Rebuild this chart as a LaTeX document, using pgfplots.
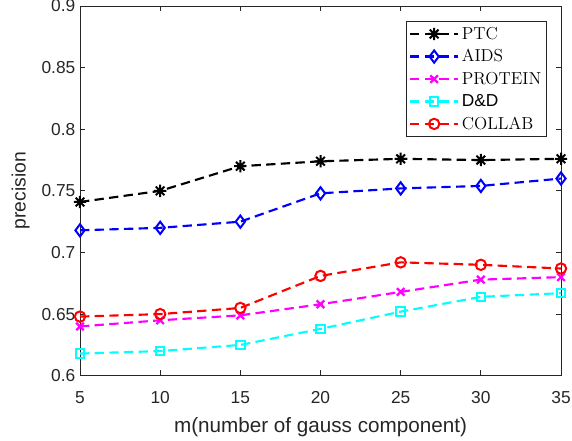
\documentclass[border=0pt]{standalone}
\usepackage{fontspec}
\setsansfont{Liberation Sans}
\usepackage{pgfplots}
\pgfplotsset{compat=1.18}
\pgfdeclareplotmark{star8}{%
  \pgfpathmoveto{\pgfpointpolar{0}{\pgfplotmarksize}}\pgfpathlineto{\pgfpointpolar{180}{\pgfplotmarksize}}%
  \pgfpathmoveto{\pgfpointpolar{90}{\pgfplotmarksize}}\pgfpathlineto{\pgfpointpolar{270}{\pgfplotmarksize}}%
  \pgfpathmoveto{\pgfpointpolar{45}{\pgfplotmarksize}}\pgfpathlineto{\pgfpointpolar{225}{\pgfplotmarksize}}%
  \pgfpathmoveto{\pgfpointpolar{135}{\pgfplotmarksize}}\pgfpathlineto{\pgfpointpolar{315}{\pgfplotmarksize}}%
  \pgfusepathqstroke}
\definecolor{axgray}{rgb}{0.15,0.15,0.15}
\definecolor{mblue}{rgb}{0,0,1}
\definecolor{mmag}{rgb}{1,0,1}
\definecolor{mcyan}{rgb}{0,1,1}
\definecolor{mred}{rgb}{1,0,0}
\begin{document}
\begin{tikzpicture}
\begin{axis}[
  name=ax,
  width=360.75pt, height=277.3pt, scale only axis,
  xmin=5, xmax=35, ymin=0.6, ymax=0.9,
  xtick={5,10,15,20,25,30,35},
  ytick={0.6,0.65,0.7,0.75,0.8,0.85,0.9},
  yticklabels={0.6,0.65,0.7,0.75,0.8,0.85,0.9},
  tick align=inside, major tick length=4pt,
  axis line style={axgray, line width=0.6pt},
  every tick/.style={axgray, line width=0.6pt},
  tick label style={font=\sffamily\fontsize{13}{15}\selectfont, text=axgray},
  xticklabel style={yshift=-8pt},
  /pgf/number format/assume math mode=true,
  xlabel={m(number of gauss component)},
  ylabel={precision},
  xlabel style={font=\sffamily\fontsize{15.5}{18}\selectfont, text=axgray, yshift=-4pt},
  ylabel style={font=\sffamily\fontsize{14.5}{17}\selectfont, text=axgray, yshift=2pt},
  every axis plot/.append style={line width=1.6pt, dash pattern=on 7pt off 4pt},
  legend style={at={(0.971,0.959)}, anchor=north east, draw=axgray, line width=0.6pt,
    font=\fontsize{13}{15}\selectfont, row sep=2.2pt, inner sep=2pt},
  legend cell align=left,
  legend image code/.code={\draw[mark repeat=2,mark phase=2] plot coordinates {(0pt,0pt) (18pt,0pt) (36pt,0pt)};},
]
\addplot[black, mark=star8, mark size=4.6pt, mark options={solid, line width=1.5pt}] coordinates {
(5,0.741) (10,0.750) (15,0.770) (20,0.774) (25,0.776) (30,0.775) (35,0.776)};
\addlegendentry{PTC}
\addplot[mblue, mark=diamond, mark size=4.6pt, mark options={solid, line width=1.5pt}] coordinates {
(5,0.718) (10,0.720) (15,0.725) (20,0.748) (25,0.752) (30,0.754) (35,0.760)};
\addlegendentry{AIDS}
\addplot[mmag, mark=x, mark size=4pt, mark options={solid, line width=1.7pt}] coordinates {
(5,0.640) (10,0.645) (15,0.649) (20,0.658) (25,0.668) (30,0.678) (35,0.680)};
\addlegendentry{PROTEIN}
\addplot[mcyan, mark=square, mark size=3.2pt, mark options={solid, line width=1.5pt}] coordinates {
(5,0.618) (10,0.620) (15,0.625) (20,0.638) (25,0.652) (30,0.664) (35,0.667)};
\addlegendentry{\sffamily D\&D}
\addplot[mred, mark=o, mark size=3.9pt, mark options={solid, line width=1.5pt}] coordinates {
(5,0.648) (10,0.650) (15,0.655) (20,0.681) (25,0.692) (30,0.690) (35,0.687)};
\addlegendentry{COLLAB}
\end{axis}
\pgfresetboundingbox
\path (ax.south west) ++(-60pt,-48.2pt) coordinate (bl);
\path (ax.north east) ++(8.25pt,4.5pt) coordinate (tr);
\path[use as bounding box] (bl) rectangle (tr);
\end{tikzpicture}
\end{document}
